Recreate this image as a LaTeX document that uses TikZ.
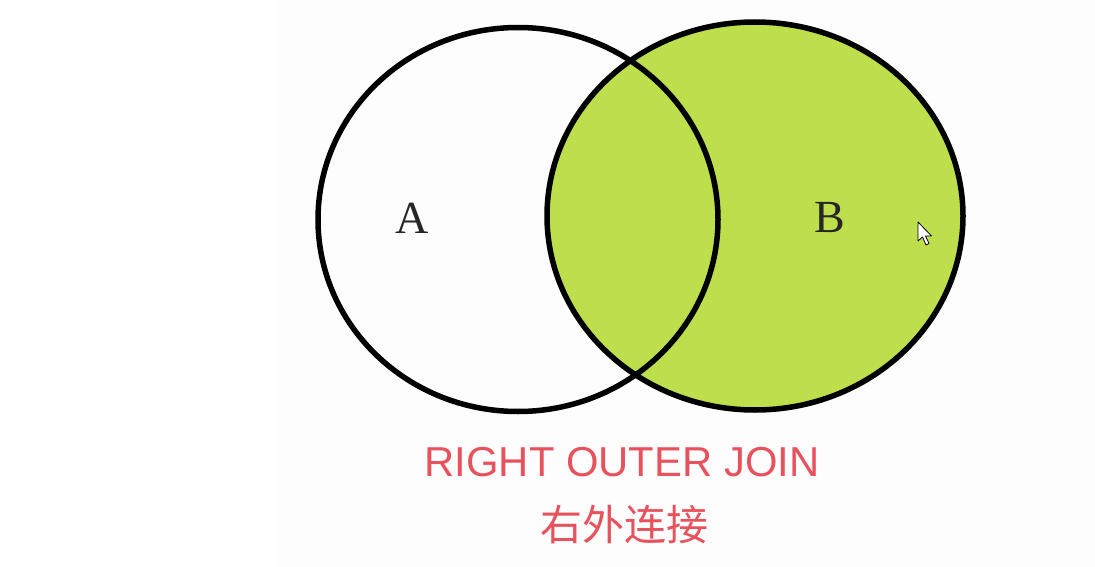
\documentclass[tikz,border=0pt]{standalone}
\usepackage{fontspec}
\setmainfont{Liberation Serif}
\newfontfamily\labelsans{Liberation Sans}
\newfontfamily\cjk{Noto Sans CJK SC}
\definecolor{limefill}{RGB}{190,223,76}
\definecolor{titlered}{RGB}{232,82,92}
\definecolor{slidebg}{RGB}{253,253,253}
\tikzset{
  setline/.style={draw=black, line width=5.5pt},
  setlabel/.style={font=\fontsize{46}{46}\selectfont, text=black!85},
  titletext/.style={text=titlered, font=\labelsans\fontsize{41.8}{42}\selectfont},
  cjktext/.style={text=titlered, font=\cjk\fontsize{42}{42}\selectfont},
}
\begin{document}
\begin{tikzpicture}[x=1pt,y=-1pt]
\useasboundingbox (0,0) rectangle (1095,567);
\fill[white] (0,0) rectangle (1095,567);
\fill[slidebg] (276,0) rectangle (1095,567);
% set B filled
\fill[limefill] (755,216) ellipse [x radius=208, y radius=194];
% outlines
\draw[setline] (518,219.5) ellipse [x radius=200, y radius=192];
\draw[setline] (755,216) ellipse [x radius=208, y radius=194];
% labels
\node[setlabel] (A) at (412,218) {A};
\node[setlabel] (B) at (830,218) {B};
% cursor
\draw[black, line width=0.8pt, fill=white, line join=round]
  (918,222) -- (918,241) -- (922.5,237) -- (926,245) -- (929,243.5) -- (925.5,236) -- (931.5,236) -- cycle;
% titles
\node[titletext] (t1) at (622,462) {RIGHT OUTER JOIN};
\node[cjktext] (t2) at (624,525) {右外连接};
\end{tikzpicture}
\end{document}
